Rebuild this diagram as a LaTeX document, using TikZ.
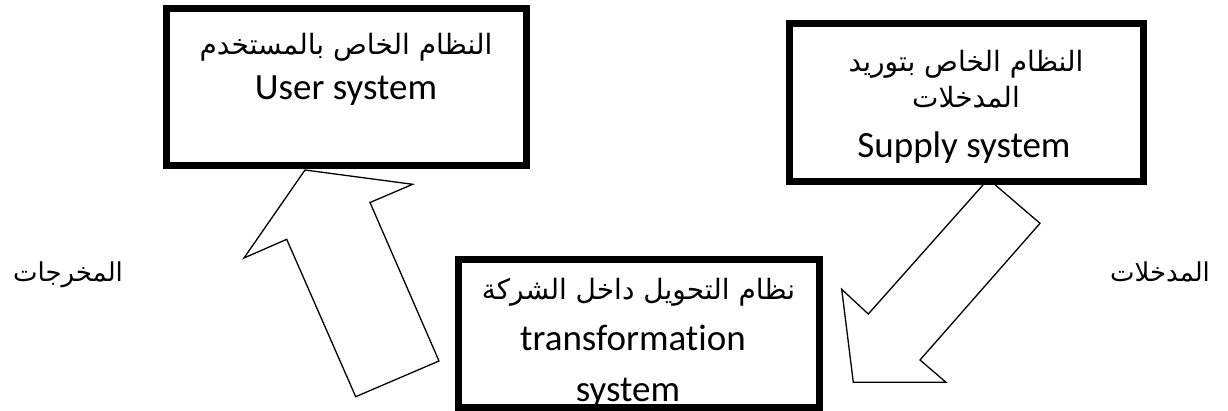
\documentclass[tikz,border=0pt]{standalone}
\usepackage{fontspec}
\setmainfont{Carlito}[Ligatures=NoCommon]
\newfontfamily\arabicfont[Script=Arabic]{DejaVu Sans}
\TeXXeTstate=1
\newcommand{\entsize}{\fontsize{37}{40}\selectfont}
\newcommand{\arsize}{\fontsize{28}{34}\selectfont}
\newcommand{\sidesize}{\fontsize{26}{30}\selectfont}

\tikzset{
  sysbox/.style={fill=white, draw=none, inner sep=0pt, outer sep=0pt},
  frame/.style={line width=7pt, line join=miter},
  blockarrow/.style={draw=black, fill=white, line width=1.3pt, line join=miter},
  entxt/.style={font=\entsize, inner sep=0pt, anchor=base},
  artxt/.style={font=\arabicfont\arsize, inner sep=0pt, anchor=base},
  sidetxt/.style={font=\arabicfont\sidesize, inner sep=0pt, anchor=base},
}

\begin{document}
\begin{tikzpicture}[x=1pt,y=-1pt]
\useasboundingbox (0,0) rectangle (1228,411);

% block arrow: transformation -> user
\coordinate (u1) at (305,170);
\coordinate (u2) at (412.7,184.3);
\coordinate (u3) at (370,202.5);
\coordinate (u4) at (439,361);
\coordinate (u5) at (355.7,396.7);
\coordinate (u6) at (286.7,239.3);
\coordinate (u7) at (244,258);
\draw[blockarrow] (u1) -- (u2) -- (u3) -- (u4) -- (u5) -- (u6) -- (u7) -- cycle;

% block arrow: supply -> transformation
\coordinate (d1) at (988.3,179);
\coordinate (d2) at (1040,223.3);
\coordinate (d3) at (920,360);
\coordinate (d4) at (946,382.3);
\coordinate (d5) at (853.3,382.3);
\coordinate (d6) at (841.7,289.3);
\coordinate (d7) at (868.3,314);
\draw[blockarrow] (d1) -- (d2) -- (d3) -- (d4) -- (d5) -- (d6) -- (d7) -- cycle;

% the three systems
\node[sysbox, minimum width=360pt, minimum height=157.5pt] (user) at (346,87.25) {};
\node[sysbox, minimum width=354pt, minimum height=158pt] (supply) at (966,103) {};
\node[sysbox, minimum width=361pt, minimum height=147pt] (trans) at (638.5,333.5) {};

% texts inside the boxes
\node[artxt] (userar) at (346,55) {\beginR النظام الخاص بالمستخدم\endR};
\node[entxt] (useren) at (346,100) {User system};

\node[artxt] (supar1) at (966,72) {\beginR النظام الخاص بتوريد\endR};
\node[artxt] (supar2) at (966,108) {\beginR المدخلات\endR};
\node[entxt] (supen) at (964,158) {Supply system};

\node[artxt] (transar) at (638.5,300) {\beginR نظام التحويل داخل الشركة\endR};
\node[entxt] (transen1) at (633,350) {transformation};
\node[entxt] (transen2) at (628,401) {system};

% box frames on top
\draw[frame] (user.north west) rectangle (user.south east);
\draw[frame] (supply.north west) rectangle (supply.south east);
\draw[frame] (trans.north west) rectangle (trans.south east);

% side labels
\node[sidetxt] (outputs) at (68,282) {\beginR المخرجات\endR};
\node[sidetxt] (inputs) at (1160,282) {\beginR المدخلات\endR};
\end{tikzpicture}
\end{document}
